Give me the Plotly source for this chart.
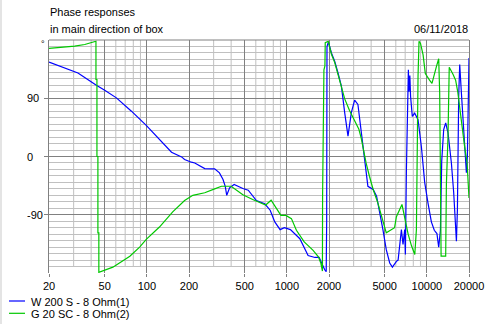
import math
import plotly.graph_objects as go

# ---- data -------------------------------------------------------------
# W 200 S - 8 Ohm : frequency (Hz) / phase (deg)
freq_w = [20, 26, 32.2, 43.6, 50, 60.6, 77.6, 99, 123, 150, 177, 186, 208, 220,
          259, 305, 330, 350, 363, 372, 390, 420, 485, 530, 606, 695, 760, 820,
          895, 960, 1060, 1238, 1418, 1588, 1700, 1766, 1864, 1910, 1925, 1935,
          1980, 2082, 2198, 2320, 2452, 2590, 2733, 2886, 3048, 3218, 3400, 3590,
          3792, 4134, 4374, 4854, 5130, 5428, 5674, 6060, 6232, 6580, 6756, 6946,
          7026, 7144, 7300, 7380, 7456, 7560, 7650, 7870, 8188, 8652, 9140, 9650,
          10190, 10770, 11300, 11800, 12150, 12500, 12770, 13190, 13630, 14160,
          14970, 15550, 16260, 16530, 16880, 17170, 17650, 18120, 18640, 19160,
          19480, 19800, 20000]
phase_w = [146, 137, 129, 110, 102.5, 90.6, 70, 48, 26.3, 6.6, -0.6, -4.7, -8.8, -10,
           -18.6, -19, -25.3, -35.6, -46, -60, -48.5, -43.3, -49.5, -52, -68, -73, -83, -101,
           -113, -110, -113, -127, -153, -156, -156, -164.5, -175, -178, -100, 170,
           177, 160, 147, 129, 108.7, 67.4, 31.4, 67.4, 87, 80.4, 36.5, 0.5,
           -46, -51, -61.4, -113, -144, -164.5, -171, -162, -160, -113, -136, -113,
           -151.5, -20, 120, 134, 100, 125, 93, 62, 67, 57, 15, -40,
           -72, -101, -114, -119, -140, -114, -7, 41.7, 52, 36.5,
           -10, -56, -131, -82, 93, 142, 98, 62, 16, -25,
           0.5, 67, 152]

# G 20 SC - 8 Ohm : frequency (Hz) / phase (deg)
freq_g = [20, 26, 30.5, 36, 42.5, 43.3, 43.3, 44.0, 44.0, 44.7, 44.7, 45.4, 45.4,
          50, 57.2, 75.6, 88.8, 99, 123, 153, 186, 213, 259, 305, 341, 400, 485,
          570, 706, 772, 843, 907, 984, 1078, 1170, 1330, 1540, 1680, 1750, 1790,
          1795, 1800, 1840, 1870, 1880, 1975, 2082, 2198, 2320, 2452, 2590, 2803,
          3048, 3270, 3400, 3680, 3890, 4134, 4470, 4730, 5000, 5130, 5880, 6060,
          6640, 6880, 7350, 7770, 8200, 8420, 8500, 8650, 8790, 9000, 9400, 9750,
          10450, 10880, 11700, 12150, 12350, 12500, 12640, 13630, 13790, 14160,
          14450, 15370, 16050, 16620, 17650, 18640, 19380, 19700, 20000]
phase_g = [167, 169, 170.6, 173, 177, 178, 119, 119, 0, 0, -118, -118, -179,
           -176, -171, -154, -140, -128, -109, -85.6, -68, -60, -56, -50, -46, -46, -59,
           -66.5, -75, -67.6, -80, -91, -91, -96, -114, -132, -145, -155, -165, -173,
           -177, -60, 134, 140, 176, 178, 158, 145, 127, 105, 89, 71,
           55, 42, 28, -10, -30.5, -51, -72, -92, -113, -118, -110, -93,
           -74, -92, -120, -138, -151.5, -113, 31, 124, 178, 175, 157, 128,
           118, 113, 139, 151, 98, -5, -154, -154, -43, 31,
           138, 127, 118, 100, 52, 14, -10, -34, -64]

series_names = ["W 200 S - 8 Ohm(1)", "G 20 SC - 8 Ohm(2)"]
series_freqs = [freq_w, freq_g]
series_phases = [phase_w, phase_g]

x_ticks = [20, 50, 100, 200, 500, 1000, 2000, 5000, 10000, 20000]
x_minor = [30, 40, 60, 70, 80, 90, 300, 400, 600, 700, 800, 900,
           3000, 4000, 6000, 7000, 8000, 9000]
y_ticks = [90, 0, -90]
y_minor = [v for v in range(-170, 180, 10) if v not in (-90, 0, 90)]

title_lines = ["Phase responses", "in main direction of box"]
date_text = "06/11/2018"
unit_text = "°"

# ---- style ------------------------------------------------------------
FONT = "Liberation Sans, Arial, sans-serif"
DARK = "#808080"
LIGHT = "#c0c0c0"
COLORS = ["#0000ff", "#00c800"]
W, H = 498, 324
ML, MR, MT, MB = 49, 29, 40, 51
PW, PH = W - ML - MR, H - MT - MB


def px_x(x):
    return (x - ML) / PW


def px_y(y):
    return (H - MB - y) / PH


fig = go.Figure()
for f, p, name, col in zip(series_freqs, series_phases, series_names, COLORS):
    fig.add_trace(go.Scatter(x=f, y=p, mode="lines", name=name,
                             line=dict(color=col, width=1.2), showlegend=False))

shapes = []
# light vertical grid lines stop at -170 deg
for v in x_minor:
    shapes.append(dict(type="line", xref="x", yref="y", x0=v, x1=v, y0=-170, y1=180,
                       line=dict(color=LIGHT, width=1), layer="below"))
# top frame line
shapes.append(dict(type="line", xref="paper", yref="paper", x0=0, x1=1, y0=1, y1=1,
                   line=dict(color=DARK, width=1)))
# faint border at the window's left edge
shapes.append(dict(type="line", xref="paper", yref="paper", x0=px_x(1), x1=px_x(1),
                   y0=px_y(0), y1=px_y(H), line=dict(color="#e4e4e4", width=2)))

annotations = []
# legend
for i, (name, col) in enumerate(zip(series_names, COLORS)):
    yc = 301 + i * 12.3
    shapes.append(dict(type="line", xref="paper", yref="paper",
                       x0=px_x(9), x1=px_x(25), y0=px_y(yc), y1=px_y(yc),
                       line=dict(color=col, width=1.2)))
    annotations.append(dict(text=name, xref="paper", yref="paper", x=px_x(29),
                            y=px_y(yc + 0.5), xanchor="left", yanchor="middle",
                            showarrow=False, font=dict(family=FONT, size=11, color="black")))

# y tick labels, left aligned
for v in y_ticks:
    annotations.append(dict(text=str(v), xref="paper", yref="y", x=px_x(25), y=v,
                            xanchor="left", yanchor="middle", showarrow=False,
                            font=dict(family=FONT, size=11, color="black")))

# titles and date
annotations.append(dict(text=title_lines[0], xref="paper", yref="paper", x=px_x(48),
                        y=px_y(12.5), xanchor="left", yanchor="middle", showarrow=False,
                        font=dict(family=FONT, size=11, color="black")))
annotations.append(dict(text=title_lines[1], xref="paper", yref="paper", x=px_x(48),
                        y=px_y(29), xanchor="left", yanchor="middle", showarrow=False,
                        font=dict(family=FONT, size=11, color="black")))
annotations.append(dict(text=date_text, xref="paper", yref="paper", x=px_x(470),
                        y=px_y(29), xanchor="right", yanchor="middle", showarrow=False,
                        font=dict(family=FONT, size=11, color="black")))
annotations.append(dict(text=unit_text, xref="paper", yref="paper", x=px_x(42.5),
                        y=px_y(44), xanchor="center", yanchor="middle", showarrow=False,
                        font=dict(family=FONT, size=9, color="black")))

fig.update_layout(
    width=W, height=H,
    margin=dict(l=ML, r=MR, t=MT, b=MB, pad=0),
    paper_bgcolor="white", plot_bgcolor="white",
    shapes=shapes, annotations=annotations,
    showlegend=False,
    xaxis=dict(type="log", range=[math.log10(20), math.log10(20000)],
               tickvals=x_ticks, ticktext=[str(v) for v in x_ticks],
               showgrid=True, gridcolor=DARK, gridwidth=1,
               ticks="outside", ticklen=3, tickcolor=DARK, tickwidth=1,
               zeroline=False, showline=False,
               tickfont=dict(family=FONT, size=11, color="black")),
    yaxis=dict(range=[-180, 180], tickvals=y_ticks, showticklabels=False,
               showgrid=True, gridcolor=DARK, gridwidth=1,
               ticks="outside", ticklen=4, tickcolor=DARK, tickwidth=1,
               minor=dict(tickvals=y_minor, showgrid=True, gridcolor=LIGHT,
                          gridwidth=1, ticks=""),
               zeroline=False, showline=True, mirror=True, linecolor=DARK, linewidth=1),
)

fig.write_html("out.html")
